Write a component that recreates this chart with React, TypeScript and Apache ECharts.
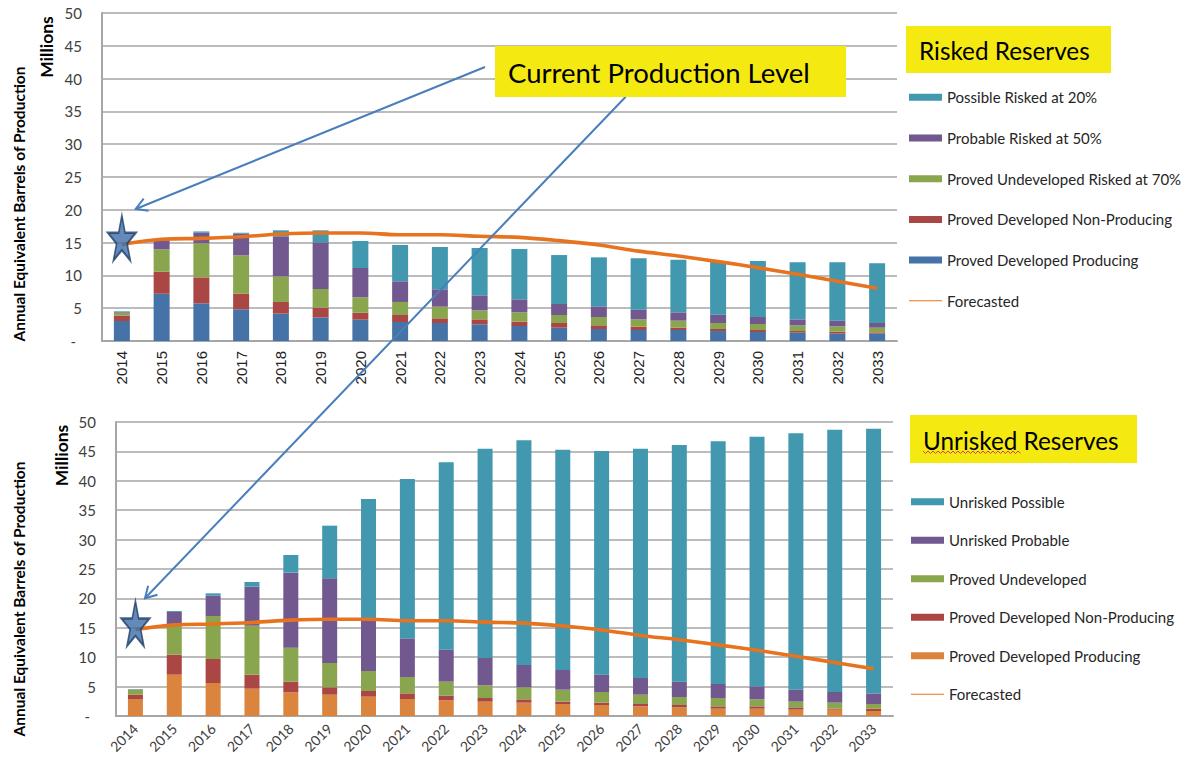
import React, { useEffect, useRef } from "react";
import * as echarts from "echarts";

const years = ["2014","2015","2016","2017","2018","2019","2020","2021","2022","2023","2024","2025","2026","2027","2028","2029","2030","2031","2032","2033"];
const yTicks = [0, 5, 10, 15, 20, 25, 30, 35, 40, 45, 50];

// Risked reserves (top chart), millions of barrels, stacked segments
const riskedPDP = [3.05, 7.2, 5.74, 4.83, 4.17, 3.6, 3.25, 2.9, 2.74, 2.54, 2.29, 2.03, 1.83, 1.68, 1.68, 1.52, 1.37, 1.27, 1.12, 1.12];
const riskedPDNP = [0.81, 3.37, 3.96, 2.37, 1.78, 1.48, 1.07, 1.06, 0.72, 0.76, 0.66, 0.71, 0.56, 0.5, 0.35, 0.31, 0.31, 0.25, 0.3, 0.2];
const riskedPUD = [0.46, 3.4, 5.2, 5.86, 3.91, 2.85, 2.34, 1.99, 1.77, 1.37, 1.42, 1.22, 1.27, 1.12, 1.07, 0.91, 0.91, 0.87, 0.82, 0.71];
const riskedProbable = [0.1, 1.38, 1.6, 3.3, 6.1, 7.11, 4.47, 3.15, 2.65, 2.29, 1.98, 1.68, 1.62, 1.48, 1.27, 1.27, 1.07, 0.91, 0.86, 0.71];
const riskedPossible = [0.1, 0.05, 0.2, 0.14, 0.91, 1.83, 4.11, 5.53, 6.45, 7.22, 7.67, 7.46, 7.47, 7.82, 8.03, 8.13, 8.54, 8.7, 8.9, 9.1];

// Unrisked reserves (bottom chart)
const unriskedPDP = [2.89, 7.03, 5.61, 4.65, 4.02, 3.63, 3.29, 2.89, 2.66, 2.44, 2.27, 2.04, 1.87, 1.64, 1.47, 1.25, 1.25, 1.08, 1.08, 0.85];
const unriskedPDNP = [0.74, 3.4, 4.08, 2.38, 1.82, 1.25, 0.96, 0.96, 0.8, 0.62, 0.56, 0.4, 0.4, 0.4, 0.4, 0.39, 0.39, 0.39, 0.17, 0.4];
const unriskedPUD = [0.85, 5.07, 7.31, 8.33, 5.78, 4.13, 3.4, 2.78, 2.38, 2.16, 2.05, 2.04, 1.81, 1.59, 1.36, 1.42, 1.19, 0.97, 1.02, 0.79];
const unriskedProbable = [0.05, 2.2, 3.46, 6.64, 12.76, 14.4, 8.55, 6.57, 5.44, 4.64, 3.79, 3.34, 2.95, 2.83, 2.61, 2.38, 2.22, 2.04, 1.81, 1.81];
const unriskedPossible = [0.06, 0.16, 0.4, 0.79, 3.0, 8.96, 20.7, 27.1, 31.86, 35.6, 38.21, 37.48, 38.04, 39.0, 40.25, 41.27, 42.45, 43.59, 44.62, 45.02];

const forecasted = [14.7, 15.5, 15.65, 15.9, 16.3, 16.46, 16.46, 16.2, 16.2, 15.96, 15.8, 15.3, 14.63, 13.7, 12.96, 12.1, 11.18, 10.16, 9.1, 8.03];
const currentLevel = [15.7]; // star marker at 2014

const C = {
  blue: "#4572A7",
  red: "#AA4643",
  green: "#89A54E",
  purple: "#71588F",
  teal: "#4198AF",
  orange: "#DB843D",
  line: "#E8731E",
  grid: "#A6A6A6",
  arrow: "#4A7EBB",
  yellow: "#F4EA12",
};

const CAL = "Lato, 'Open Sans', sans-serif";
const STAR = "path://M50 0 L61 35 L98 35 L68 57 L79 91 L50 70 L21 91 L32 57 L2 35 L39 35 Z";
const LINE_ICON = "path://M0 0 M0 7 M0 1.8 L100 1.8 L100 5.2 L0 5.2 Z";

function arrowHead(tx: number, ty: number, sx: number, sy: number, len: number) {
  const dx = sx - tx, dy = sy - ty;
  const L = Math.hypot(dx, dy);
  const bx = dx / L, by = dy / L;
  const a = Math.PI / 6;
  const c = Math.cos(a), s = Math.sin(a);
  const w1 = [tx + len * (bx * c - by * s), ty + len * (bx * s + by * c)];
  const w2 = [tx + len * (bx * c + by * s), ty + len * (-bx * s + by * c)];
  return [w1, [tx, ty], w2];
}

export default function App() {
  const ref = useRef<HTMLDivElement>(null);
  useEffect(() => {
    if (!ref.current) return;
    const chart = echarts.init(ref.current, undefined, { renderer: "svg" });

    const barSeries = (name: string, data: number[], color: string, idx: number, stack: string, w: number) => ({
      type: "bar", name, data, stack, xAxisIndex: idx, yAxisIndex: idx, barWidth: w,
      itemStyle: { color }, z: 2,
    });
    const lineSeries = (idx: number) => ({
      type: "line", name: "Forecasted", data: forecasted, xAxisIndex: idx, yAxisIndex: idx,
      smooth: 0.35, symbol: "none", lineStyle: { color: C.line, width: 3.6 }, itemStyle: { color: C.line }, z: 5,
    });
    const starSeries = (idx: number) => ({
      type: "scatter", name: "Current", data: [[years[0], currentLevel[0]]], xAxisIndex: idx, yAxisIndex: idx,
      symbol: STAR, symbolSize: [28, 45],
      itemStyle: { color: "#3D6DA8", borderColor: "#1F3E66", borderWidth: 2 }, z: 10,
    });

    const yAxisCommon = (idx: number) => ({
      type: "value", gridIndex: idx, min: yTicks[0], max: yTicks[yTicks.length - 1], interval: yTicks[1] - yTicks[0],
      axisLine: { show: true, lineStyle: { color: C.grid, width: 2 } },
      axisTick: { show: false },
      splitLine: { lineStyle: { color: C.grid, width: 1.5 } },
      axisLabel: {
        margin: 20, fontFamily: CAL, fontSize: 15, color: "#404040",
        formatter: (v: number) => (v === 0 ? "{d|-}" : String(v)),
        rich: { d: { padding: [0, 6, 0, 0], fontFamily: CAL, fontSize: 15, color: "#404040" } },
      },
    });

    const legendItem = (name: string, color: string) => ({ name, icon: "rect", itemStyle: { color } });
    const lineLegend = { name: "Forecasted", icon: LINE_ICON, itemStyle: { color: C.line } };

    const option: any = {
      animation: false,
      backgroundColor: "#ffffff",
      grid: [
        { left: 102, top: 13, width: 795, height: 328 },
        { left: 116, top: 422, width: 777, height: 294 },
      ],
      xAxis: [
        {
          type: "category", gridIndex: 0, data: years,
          axisLine: { lineStyle: { color: C.grid, width: 2 } }, axisTick: { show: false },
          axisLabel: { rotate: 90, margin: 10, fontFamily: "'Liberation Sans', Arial, sans-serif", fontSize: 15, color: "#222" },
        },
        {
          type: "category", gridIndex: 1, data: years,
          axisLine: { lineStyle: { color: C.grid, width: 2 } }, axisTick: { show: false },
          axisLabel: { rotate: 45, margin: 10, fontFamily: CAL, fontSize: 14, color: "#404040" },
        },
      ],
      yAxis: [yAxisCommon(0), yAxisCommon(1)],
      legend: [
        {
          orient: "vertical", left: 909, top: 89.3, padding: 0, itemWidth: 33, itemHeight: 7, itemGap: 24.7,
          textStyle: { fontFamily: CAL, fontSize: 15, lineHeight: 16, color: "#262626" },
          data: [
            legendItem("Possible Risked at 20%", C.teal),
            legendItem("Probable Risked at 50%", C.purple),
            legendItem("Proved Undeveloped Risked at 70%", C.green),
            legendItem("Proved Developed Non-Producing", C.red),
            legendItem("Proved Developed Producing", C.blue),
            lineLegend,
          ],
        },
        {
          orient: "vertical", left: 911, top: 493.7, padding: 0, itemWidth: 33, itemHeight: 7, itemGap: 22.5,
          textStyle: { fontFamily: CAL, fontSize: 15, lineHeight: 16, color: "#262626" },
          data: [
            legendItem("Unrisked Possible", C.teal),
            legendItem("Unrisked Probable", C.purple),
            legendItem("Proved Undeveloped", C.green),
            legendItem("Proved Developed Non-Producing", C.red),
            legendItem("Proved Developed Producing", C.orange),
            lineLegend,
          ],
        },
      ],
      series: [
        barSeries("Proved Developed Producing", riskedPDP, C.blue, 0, "top", 16),
        barSeries("Proved Developed Non-Producing", riskedPDNP, C.red, 0, "top", 16),
        barSeries("Proved Undeveloped Risked at 70%", riskedPUD, C.green, 0, "top", 16),
        barSeries("Probable Risked at 50%", riskedProbable, C.purple, 0, "top", 16),
        barSeries("Possible Risked at 20%", riskedPossible, C.teal, 0, "top", 16),
        lineSeries(0),
        starSeries(0),
        barSeries("Proved Developed Producing", unriskedPDP, C.orange, 1, "bottom", 15),
        barSeries("Proved Developed Non-Producing", unriskedPDNP, C.red, 1, "bottom", 15),
        barSeries("Proved Undeveloped", unriskedPUD, C.green, 1, "bottom", 15),
        barSeries("Unrisked Probable", unriskedProbable, C.purple, 1, "bottom", 15),
        barSeries("Unrisked Possible", unriskedPossible, C.teal, 1, "bottom", 15),
        lineSeries(1),
        starSeries(1),
      ],
      graphic: [],
    };

    const squiggle: number[][] = [];
    for (let x = 923, i = 0; x <= 1022; x += 2.5, i++) squiggle.push([x, i % 2 === 0 ? 451 : 453.5]);

    const a1 = { sx: 485, sy: 67, tx: 135.7, ty: 209 };
    const a2 = { sx: 625.7, sy: 96.7, tx: 145, ty: 598.3 };

    const axisTitle = (x: number, y: number) => ({
      type: "text", x, y, rotation: Math.PI / 2, z: 100,
      style: { text: "Annual Equivalent Barrels of Production", fontFamily: CAL, fontWeight: "bold", fontSize: 15.5, fill: "#000", align: "center", verticalAlign: "middle" },
    });
    const millions = (x: number, y: number) => ({
      type: "text", x, y, rotation: Math.PI / 2, z: 100,
      style: { text: "Millions", fontFamily: CAL, fontWeight: "bold", fontSize: 17.5, fill: "#000", align: "center", verticalAlign: "middle" },
    });

    option.graphic = [
      axisTitle(19, 204),
      millions(46.5, 47),
      axisTitle(19, 599),
      millions(61, 455.5),
      // arrows
      { type: "line", z: 100, shape: { x1: a1.sx, y1: a1.sy, x2: a1.tx, y2: a1.ty }, style: { stroke: C.arrow, lineWidth: 2 } },
      { type: "polyline", z: 100, shape: { points: arrowHead(a1.tx, a1.ty, a1.sx, a1.sy, 13) }, style: { stroke: C.arrow, lineWidth: 2, fill: null } },
      { type: "line", z: 100, shape: { x1: a2.sx, y1: a2.sy, x2: a2.tx, y2: a2.ty }, style: { stroke: C.arrow, lineWidth: 2 } },
      { type: "polyline", z: 100, shape: { points: arrowHead(a2.tx, a2.ty, a2.sx, a2.sy, 13) }, style: { stroke: C.arrow, lineWidth: 2, fill: null } },
      // current production level box
      { type: "rect", z: 101, shape: { x: 495, y: 46, width: 351, height: 51 }, style: { fill: C.yellow } },
      { type: "text", z: 102, x: 508, y: 72, style: { text: "Current Production Level", fontFamily: CAL, fontSize: 27.5, fill: "#000", align: "left", verticalAlign: "middle" } },
      // risked reserves title
      { type: "rect", z: 101, shape: { x: 906, y: 26, width: 205, height: 47 }, style: { fill: C.yellow } },
      { type: "text", z: 102, x: 919, y: 50, style: { text: "Risked Reserves", fontFamily: CAL, fontSize: 24.3, fill: "#000", align: "left", verticalAlign: "middle" } },
      // unrisked reserves title
      { type: "rect", z: 101, shape: { x: 910, y: 415, width: 227, height: 48 }, style: { fill: C.yellow } },
      { type: "text", z: 102, x: 923, y: 440, style: { text: "Unrisked Reserves", fontFamily: CAL, fontSize: 24.3, fill: "#000", align: "left", verticalAlign: "middle" } },
      { type: "polyline", z: 102, shape: { points: squiggle }, style: { stroke: "#E03A3A", lineWidth: 1, fill: null } },
    ];

    chart.setOption(option);
    return () => chart.dispose();
  }, []);

  return <div ref={ref} style={{ position: "fixed", left: 0, top: 0, width: 1189, height: 768, background: "#fff" }} />;
}
